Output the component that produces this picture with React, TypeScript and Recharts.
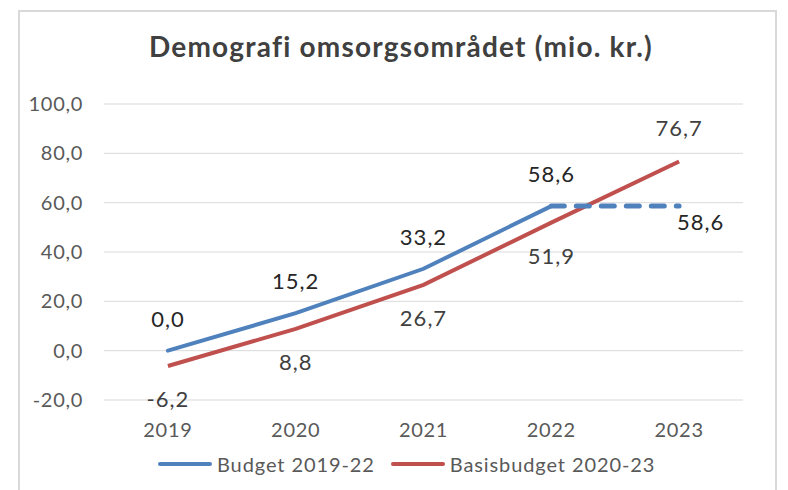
import { LineChart, Line, XAxis, YAxis, CartesianGrid, LabelList } from "recharts";

const years = ["2019", "2020", "2021", "2022", "2023"];
const budget = [0.0, 15.2, 33.2, 58.6, 58.6];
const basis = [-6.2, 8.8, 26.7, 51.9, 76.7];
const yTicks = [-20, 0, 20, 40, 60, 80, 100];

const BLUE = "#4F81BD";
const RED = "#C0504D";
const FONT = "Lato, 'Noto Sans', sans-serif";

// den blå serie er fuldt optrukket til 2022, stiplet derefter
const data = years.map((y, i) => ({
    year: y,
    budget: i <= 3 ? budget[i] : null,
    budgetDash: i >= 3 ? budget[i] : null,
    basis: basis[i],
}));

const fmt = (v: number) => v.toFixed(1).replace(".", ",");

const labelStyle = { fontSize: 22, letterSpacing: 1, fontFamily: FONT };

const blueLabel = (props: any) => {
    const { x, y, value } = props;
    if (value == null) return null;
    return (
        <text x={x} y={y - 24} textAnchor="middle" fill="#262626" {...labelStyle}>
            {fmt(value)}
        </text>
    );
};

const redLabel = (props: any) => {
    const { x, y, value, index } = props;
    if (value == null) return null;
    const above = index === 4;
    return (
        <text x={x} y={above ? y - 25 : y + 41} textAnchor="middle" fill="#404040" {...labelStyle}>
            {fmt(value)}
        </text>
    );
};

const dashLabel = (props: any) => {
    const { x, y, value, index } = props;
    if (value == null || index !== 4) return null;
    return (
        <text x={x - 2} y={y + 24} textAnchor="start" fill="#262626" {...labelStyle}>
            {fmt(value)}
        </text>
    );
};

const tickStyle = { fontSize: 20, fill: "#595959", fontFamily: FONT, letterSpacing: 0.7 };

export default function App() {
    return (
        <div style={{ position: "absolute", left: 0, top: 0, width: 788, height: 490, background: "#fff", overflow: "hidden" }}>
            <div
                style={{
                    position: "absolute",
                    left: 18,
                    top: 10,
                    width: 759,
                    height: 500,
                    border: "2px solid #d9d9d9",
                    boxSizing: "border-box",
                }}
            />
            <div
                style={{
                    position: "absolute",
                    left: 0,
                    top: 29,
                    width: 802,
                    textAlign: "center",
                    fontFamily: FONT,
                    fontWeight: "bold",
                    fontSize: 28,
                    letterSpacing: 1.2,
                    color: "#404040",
                }}
            >
                Demografi omsorgsområdet (mio. kr.)
            </div>
            <LineChart
                width={788}
                height={490}
                data={data}
                margin={{ top: 104, right: 45, bottom: 0, left: 0 }}
                style={{ position: "absolute", left: 0, top: 0 }}
            >
                <CartesianGrid vertical={false} stroke="#d9d9d9" strokeWidth={1} />
                <XAxis
                    dataKey="year"
                    scale="band"
                    height={90}
                    axisLine={false}
                    tickLine={false}
                    tickSize={0}
                    tickMargin={23}
                    tick={tickStyle}
                />
                <YAxis
                    width={104}
                    domain={[-20, 100]}
                    ticks={yTicks}
                    axisLine={false}
                    tickLine={false}
                    tickSize={0}
                    tickMargin={21}
                    tickFormatter={fmt}
                    tick={tickStyle}
                />
                <Line
                    type="linear"
                    dataKey="basis"
                    stroke={RED}
                    strokeWidth={4}
                    dot={false}
                    isAnimationActive={false}
                >
                    <LabelList dataKey="basis" content={redLabel} />
                </Line>
                <Line
                    type="linear"
                    dataKey="budget"
                    stroke={BLUE}
                    strokeWidth={4}
                    strokeLinecap="round"
                    dot={false}
                    isAnimationActive={false}
                >
                    <LabelList dataKey="budget" content={blueLabel} />
                </Line>
                <Line
                    type="linear"
                    dataKey="budgetDash"
                    stroke={BLUE}
                    strokeWidth={5}
                    strokeDasharray="13 12"
                    strokeLinecap="round"
                    dot={false}
                    isAnimationActive={false}
                >
                    <LabelList dataKey="budgetDash" content={dashLabel} />
                </Line>
            </LineChart>
            <div
                style={{
                    position: "absolute",
                    left: 158,
                    top: 452,
                    display: "flex",
                    fontFamily: FONT,
                    fontSize: 20,
                    letterSpacing: 0.9,
                    color: "#595959",
                    whiteSpace: "nowrap",
                }}
            >
                <span style={{ display: "flex", alignItems: "center", marginRight: 16 }}>
                    <span style={{ display: "inline-block", width: 54, height: 4, background: BLUE, borderRadius: 2, marginRight: 5 }} />
                    Budget 2019-22
                </span>
                <span style={{ display: "flex", alignItems: "center" }}>
                    <span style={{ display: "inline-block", width: 54, height: 4, background: RED, borderRadius: 2, marginRight: 5 }} />
                    Basisbudget 2020-23
                </span>
            </div>
        </div>
    );
}
